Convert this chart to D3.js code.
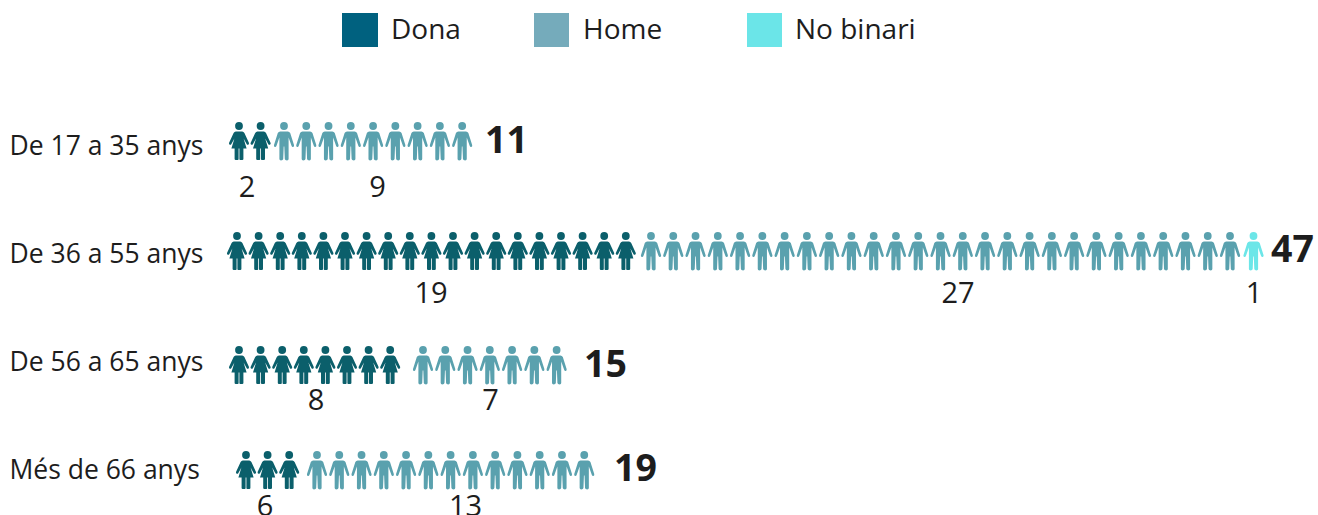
<!DOCTYPE html>
<html><head><meta charset="utf-8">
<script src="https://cdn.jsdelivr.net/npm/d3@7/dist/d3.min.js"></script>
<style>html,body{margin:0;padding:0;background:#fff}svg{display:block}text{font-family:"Open Sans",sans-serif;fill:#1d1d1d}</style>
</head><body><svg id="c" width="1318" height="515"></svg>
<script>
const categories=["De 17 a 35 anys","De 36 a 55 anys","De 56 a 65 anys","Més de 66 anys"];
const dona=[2,19,8,6];
const donaIcons=[2,19,8,3];
const home=[9,27,7,13];
const noBinari=[0,1,0,0];
const totals=[11,47,15,19];
const legendLabels=["Dona","Home","No binari"];

const legendColors=["#00617f","#75abbb","#6be5e8"];
const figureColors=["#0b5f6b","#5aa1ae","#6ce6e8"];
const svg=d3.select("#c");
const WOMAN="M-3.2,9.5 L3.2,9.5 Q4.6,9.5 5.4,11 L9.9,20.8 Q10.4,22.3 9.2,22.7 Q8.2,23 7.6,21.9 L4.6,16.5 L7.6,26.5 L4.4,26.5 L4.4,37 Q4.4,38 3.2,38 L1.2,38 Q0.4,38 0.4,37 L0.4,26.5 L-0.4,26.5 L-0.4,37 Q-0.4,38 -1.2,38 L-3.2,38 Q-4.4,38 -4.4,37 L-4.4,26.5 L-7.6,26.5 L-4.6,16.5 L-7.6,21.9 Q-8.2,23 -9.2,22.7 Q-10.4,22.3 -9.9,20.8 L-5.4,11 Q-4.6,9.5 -3.2,9.5 Z";
const MAN="M-3.8,9.5 L3.8,9.5 Q5.4,9.5 6.2,11 L10,23 Q10.4,24.6 9.2,25 Q8.1,25.3 7.6,24.1 L4.6,15.5 L4.6,37 Q4.6,38.4 3,38.4 Q1,38.4 0.8,37 L0.3,24.5 L-0.3,24.5 L-0.8,37 Q-1,38.4 -3,38.4 Q-4.6,38.4 -4.6,37 L-4.6,15.5 L-7.6,24.1 Q-8.1,25.3 -9.2,25 Q-10.4,24.6 -10,23 L-6.2,11 Q-5.4,9.5 -3.8,9.5 Z";

const rowTop=d3.scaleOrdinal().domain(categories).range([122,232,346,451]);
const labelY=d3.scalePoint().domain(categories).range([155,479]);
const numY=d3.scalePoint().domain(categories).range([197,516]);
const totalY=d3.scaleOrdinal().domain(categories).range([153,262,377,481]);

const layout=[
 {d:239,h:284,n:0,t:485,ld:247,lh:377.5,ln:0},
 {d:237,h:651,n:1253.5,t:1271,ld:431,lh:958,ln:1254},
 {d:239,h:423,n:0,t:584,ld:316,lh:490.5,ln:0},
 {d:246,h:317,n:0,t:614,ld:265,lh:465.5,ln:0}];
const stepD=d3.scaleLinear().domain([0,1]).range([0,21.6]);
const stepH=d3.scaleLinear().domain([0,1]).range([0,22.27]);

function fig(g,x,y,path,color){
  const f=g.append("g").attr("transform",`translate(${x},${y})`).attr("fill",color);
  f.append("circle").attr("cx",0).attr("cy",4).attr("r",3.9);
  f.append("path").attr("d",path);
}
// legend
const lx=[342,534,747], lw=[36,35,35], ltx=[391,583,795];
legendLabels.forEach((l,i)=>{
  svg.append("rect").attr("x",lx[i]).attr("y",13).attr("width",lw[i]).attr("height",34).attr("fill",legendColors[i]);
  svg.append("text").attr("x",ltx[i]).attr("y",39).attr("font-size",28).text(l);
});
categories.forEach((c,i)=>{
  const L=layout[i], g=svg.append("g"), y=rowTop(c);
  g.append("text").attr("x",9.5).attr("y",labelY(c)).attr("font-size",26.5).text(c);
  d3.range(donaIcons[i]).forEach(k=>fig(g,L.d+stepD(k),y,WOMAN,figureColors[0]));
  d3.range(home[i]).forEach(k=>fig(g,L.h+stepH(k),y,MAN,figureColors[1]));
  d3.range(noBinari[i]).forEach(k=>fig(g,L.n+stepH(k),y,MAN,figureColors[2]));
  g.append("text").attr("x",L.t).attr("y",totalY(c)).attr("font-size",37.5).attr("font-weight",700).text(totals[i]);
  [[dona[i],L.ld],[home[i],L.lh],[noBinari[i],L.ln]].forEach(([v,x])=>{
    if(v>0) g.append("text").attr("x",x).attr("y",numY(c)).attr("text-anchor","middle").attr("font-size",29).attr("fill","#333").text(v);
  });
});
</script></body></html>
